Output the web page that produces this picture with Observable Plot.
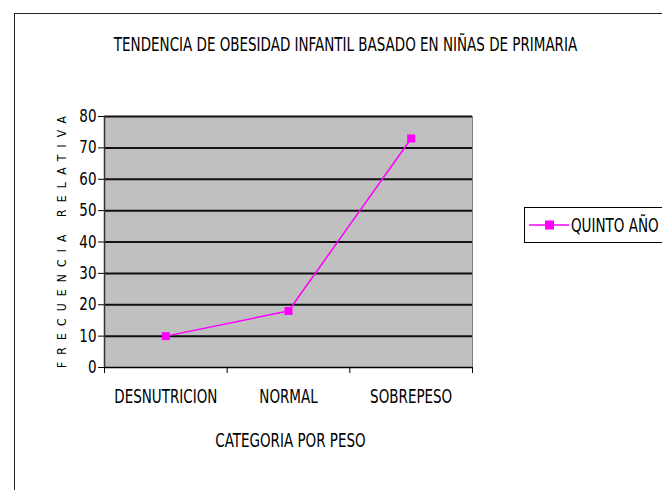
<!DOCTYPE html>
<html><head><meta charset="utf-8">
<script src="https://cdn.jsdelivr.net/npm/d3@7"></script>
<script src="https://cdn.jsdelivr.net/npm/@observablehq/plot@0.6"></script>
<style>
body{margin:0;background:#fff;}
#wrap{position:relative;width:662px;height:490px;overflow:hidden;background:#fff;}
#wrap > svg{position:absolute;left:0;top:0;}
#border{position:absolute;left:14px;top:13px;width:700px;height:500px;border:1.5px solid #222;box-sizing:border-box;}
#legend{position:absolute;left:524px;top:207px;width:160px;height:36px;border:1.5px solid #000;box-sizing:border-box;background:#fff;display:flex;align-items:center;font-family:'DejaVu Sans Condensed',sans-serif;font-size:15px;}
#legend span{display:inline-block;transform:scale(1,1.35);transform-origin:left center;white-space:nowrap;}
</style></head><body><div id="wrap"><div id="border"></div></div>
<script>
const categories = ["DESNUTRICION", "NORMAL", "SOBREPESO"];
const values = [10, 18, 73];
const seriesName = "QUINTO AÑO";
const yTicks = [0, 10, 20, 30, 40, 50, 60, 70, 80];
const title = "TENDENCIA DE OBESIDAD INFANTIL BASADO EN NIÑAS DE PRIMARIA";
const xTitle = "CATEGORIA POR PESO";
const yTitle = "FRECUENCIA RELATIVA";

const data = categories.map((c, i) => ({c, i, v: values[i]}));
const font = "'DejaVu Sans Condensed',sans-serif";
const magenta = "#ff00ff";

const chart = Plot.plot({
  width: 662, height: 490,
  marginLeft: 104, marginRight: 190, marginTop: 116, marginBottom: 123,
  style: {fontFamily: font, fontSize: "15px", color: "#000", background: "transparent", overflow: "visible"},
  x: {type: "linear", domain: [0, categories.length]},
  y: {domain: [0, 80]},
  marks: [
    Plot.frame({fill: "#c0c0c0", stroke: "#808080"}),
    Plot.ruleY(yTicks.slice(1), {stroke: "#111", strokeWidth: 2}),
    Plot.axisY({ticks: yTicks, tickSize: 6, tickPadding: 2, label: null, fontSize: 15, className: "yt"}),
    Plot.axisX({ticks: d3.range(categories.length + 1), tickSize: 6, tickFormat: () => "", label: null}),
    Plot.axisX({ticks: categories.map((c, i) => i + 0.5), tickSize: 0, tickPadding: 21, tickFormat: t => categories[Math.floor(t)], label: null, fontSize: 15}),
    Plot.ruleY([0], {stroke: "#000", strokeWidth: 1.5}),
    Plot.ruleX([0], {stroke: "#333", strokeWidth: 1.5}),
    Plot.line(data, {x: d => d.i + 0.5, y: "v", stroke: magenta, strokeWidth: 1.5}),
    Plot.dot(data, {x: d => d.i + 0.5, y: "v", symbol: "square", fill: magenta, r: 4.5}),
    Plot.text([title], {frameAnchor: "top", lineAnchor: "bottom", dx: 57, dy: -66, fontSize: 15}),
    Plot.text([xTitle], {frameAnchor: "bottom", lineAnchor: "bottom", dx: 2, dy: 79, fontSize: 15}),
    Plot.text([yTitle], {frameAnchor: "left", rotate: -90, dx: -42, fontSize: 12, className: "ytl"})
  ]
});
document.getElementById("wrap").appendChild(chart);

// tall, narrow lettering like the reference: keep each text's width, stretch its height
d3.select(chart).selectAll("text").each(function() {
  const t = this;
  if (t.closest(".ytl")) {
    t.setAttribute("x", -126);
    t.setAttribute("textLength", 252);
    t.setAttribute("lengthAdjust", "spacing");
    return;
  }
  const k = t.closest(".yt") ? 1.15 : 1.35;
  const tr = t.getAttribute("transform") || "";
  t.setAttribute("transform", tr + ` scale(1,${k})`);
});

const leg = document.createElement("div");
leg.id = "legend";
leg.innerHTML = `<svg width="46" height="20" style="flex:none"><line x1="4" y1="10" x2="44" y2="10" stroke="${magenta}" stroke-width="1.5"/><rect x="20" y="5.5" width="9" height="9" fill="${magenta}"/></svg><span>${seriesName}</span>`;
document.getElementById("wrap").appendChild(leg);
</script></body></html>
